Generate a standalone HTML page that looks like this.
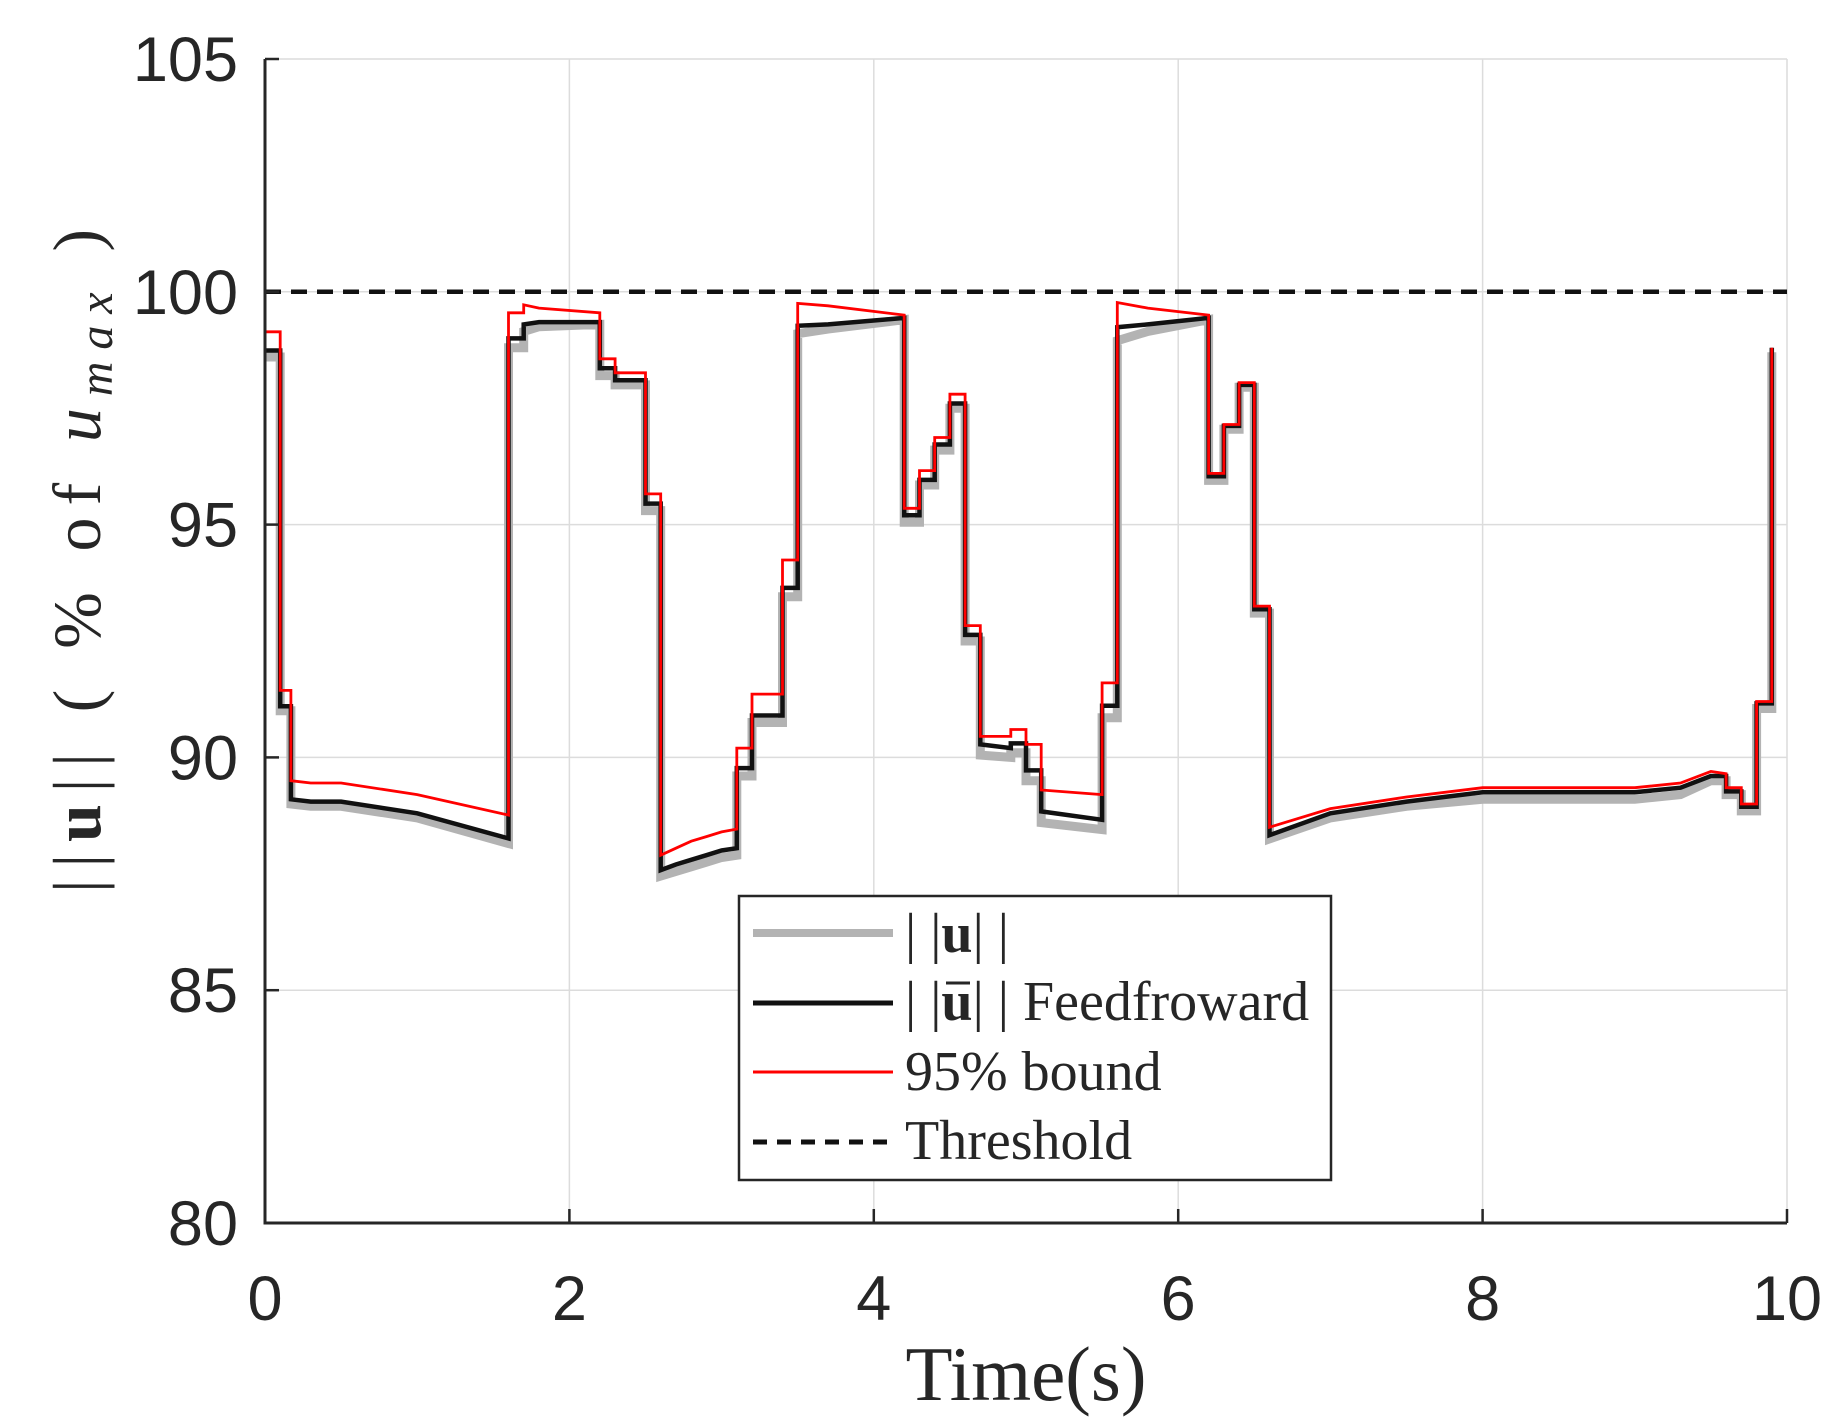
<!DOCTYPE html>
<html><head><meta charset="utf-8"><style>
html,body{margin:0;padding:0;background:#fff;}
svg{display:block;}
.tk{font-family:"Liberation Sans",sans-serif;font-size:63px;fill:#262626;}
.sf{font-family:"Liberation Serif",serif;fill:#262626;}
</style></head><body>
<svg id="chart" width="1844" height="1426" viewBox="0 0 1844 1426" xmlns="http://www.w3.org/2000/svg">
<g id="grid"></g>
<g id="series"></g>
<g id="axes"></g>
<text class="sf" x="1026" y="1400" font-size="77" text-anchor="middle">Time(s)</text>
<text class="sf" font-size="68" text-anchor="middle" textLength="664" lengthAdjust="spacing" transform="translate(100,561) rotate(-90)">||<tspan font-weight="bold">u</tspan>||  ( % of <tspan font-style="italic">u</tspan><tspan font-style="italic" font-size="48" dy="12">max</tspan><tspan dy="-12"> )</tspan></text>
<g>
<rect x="739" y="896" width="592" height="284" fill="#fff" stroke="#262626" stroke-width="2.5"/>
<g><line x1="753" y1="933" x2="893" y2="933" stroke="#b3b3b3" stroke-width="8"/><text class="sf" x="905" y="952" font-size="56">| |<tspan font-weight="bold">u</tspan>| |</text></g>
<g><line x1="753" y1="1003" x2="893" y2="1003" stroke="#111" stroke-width="5"/><text class="sf" x="905" y="1020" font-size="56">| |<tspan font-weight="bold">u</tspan>| |  Feedfroward</text><line x1="946" y1="983" x2="970" y2="983" stroke="#262626" stroke-width="3"/></g>
<g><line x1="753" y1="1072" x2="893" y2="1072" stroke="#f00" stroke-width="3"/><text class="sf" x="905" y="1090" font-size="56">95% bound</text></g>
<g><line x1="753" y1="1142" x2="893" y2="1142" stroke="#111" stroke-width="5" stroke-dasharray="14,10"/><text class="sf" x="905" y="1159" font-size="56">Threshold</text></g>
</g>
</svg>
<script>
const xTicks=[0,2,4,6,8,10];
const yTicks=[80,85,90,95,100,105];
const threshold=[100];
const times=[0,0.1,0.1,0.17,0.17,0.3,0.5,1.0,1.6,1.6,1.7,1.7,1.8,2.2,2.2,2.3,2.3,2.5,2.5,2.6,2.6,2.7,2.8,2.9,3.0,3.1,3.1,3.2,3.2,3.4,3.4,3.5,3.5,3.7,4.2,4.2,4.3,4.3,4.4,4.4,4.5,4.5,4.6,4.6,4.7,4.7,4.9,4.9,5.0,5.0,5.1,5.1,5.5,5.5,5.6,5.6,5.8,6.2,6.2,6.3,6.3,6.4,6.4,6.5,6.5,6.6,6.6,7.0,7.5,8.0,9.0,9.3,9.5,9.6,9.6,9.7,9.7,9.8,9.8,9.9,9.9];
const feedforward=[98.74,98.74,91.1,91.1,89.1,89.05,89.05,88.8,88.26,99.0,99.0,99.3,99.35,99.35,98.36,98.36,98.1,98.1,95.45,95.45,87.58,87.7,87.8,87.9,88.0,88.05,89.77,89.77,90.9,90.9,93.64,93.64,99.27,99.3,99.44,95.2,95.2,95.96,95.96,96.72,96.72,97.6,97.6,92.63,92.63,90.28,90.2,90.3,90.3,89.72,89.72,88.84,88.66,91.11,91.11,99.24,99.3,99.44,96.04,96.04,97.12,97.12,98.0,98.0,93.18,93.18,88.33,88.8,89.05,89.25,89.25,89.35,89.6,89.6,89.27,89.27,88.94,88.94,91.16,91.16,98.8];
const uNorm=[98.6,98.6,91.0,91.0,89.0,88.95,88.95,88.7,88.15,98.8,98.8,99.15,99.25,99.3,98.2,98.2,98.0,98.0,95.3,95.3,87.45,87.55,87.65,87.75,87.85,87.9,89.6,89.6,90.75,90.75,93.45,93.45,99.1,99.2,99.4,95.05,95.05,95.85,95.85,96.6,96.6,97.5,97.5,92.5,92.5,90.05,90.0,90.1,90.1,89.5,89.5,88.6,88.45,90.85,90.85,98.95,99.15,99.4,95.95,95.95,97.05,97.05,97.95,97.95,93.1,93.1,88.25,88.7,88.95,89.1,89.1,89.2,89.5,89.5,89.2,89.2,88.85,88.85,91.05,91.05,98.7];
const bound95=[99.14,99.14,91.44,91.44,89.5,89.45,89.45,89.2,88.76,99.55,99.55,99.72,99.65,99.55,98.56,98.56,98.26,98.26,95.66,95.66,87.9,88.05,88.2,88.3,88.4,88.46,90.2,90.2,91.36,91.36,94.24,94.24,99.75,99.7,99.5,95.35,95.35,96.16,96.16,96.87,96.87,97.8,97.8,92.83,92.83,90.45,90.45,90.6,90.6,90.28,90.28,89.3,89.2,91.6,91.6,99.77,99.65,99.5,96.1,96.1,97.15,97.15,98.05,98.05,93.25,93.25,88.5,88.9,89.15,89.35,89.35,89.45,89.7,89.65,89.35,89.35,89.0,89.0,91.2,91.2,98.8];

const X0=265,X1=1787,Y0=1223,Y1=59;
const xs=t=>X0+(t-0)/(10-0)*(X1-X0);
const ys=v=>Y0-(v-80)/(105-80)*(Y0-Y1);
const NS='http://www.w3.org/2000/svg';
function mk(tag,attrs,parent){const e=document.createElementNS(NS,tag);for(const k in attrs)e.setAttribute(k,attrs[k]);parent.appendChild(e);return e;}
const grid=document.getElementById('grid'),axes=document.getElementById('axes'),series=document.getElementById('series');
xTicks.forEach(t=>{
  const g=mk('line',{x1:xs(t),x2:xs(t),y1:Y1,y2:Y0,stroke:'#dcdcdc','stroke-width':1.5},grid);
  
  
  const tk=mk('line',{x1:xs(t),x2:xs(t),y1:Y0,y2:Y0-14,stroke:'#262626','stroke-width':2.5},axes);
  
  
  const lb=mk('text',{x:xs(t),y:1320,'text-anchor':'middle',class:'tk'},axes);
  lb.textContent=t;
  
  
});
yTicks.forEach(v=>{
  const g=mk('line',{x1:X0,x2:X1,y1:ys(v),y2:ys(v),stroke:'#dcdcdc','stroke-width':1.5},grid);
  
  
  const tk=mk('line',{x1:X0,x2:X0+14,y1:ys(v),y2:ys(v),stroke:'#262626','stroke-width':2.5},axes);
  
  
  const lb=mk('text',{x:238,y:ys(v)+22,'text-anchor':'end',class:'tk'},axes);
  lb.textContent=v;
  
  
});
const ax=mk('path',{d:`M${X0},${Y1}V${Y0}H${X1}`,fill:'none',stroke:'#262626','stroke-width':3},axes);


function pts(vals){return vals.map((v,i)=>xs(times[i]).toFixed(1)+','+ys(v).toFixed(1)).join(' ');}
const pu=mk('polyline',{points:pts(uNorm),fill:'none',stroke:'#b3b3b3','stroke-width':9,'stroke-linejoin':'miter'},series);


const pf=mk('polyline',{points:pts(feedforward),fill:'none',stroke:'#111','stroke-width':4.5},series);


const pr=mk('polyline',{points:pts(bound95),fill:'none',stroke:'#f00','stroke-width':2.8},series);


threshold.forEach(v=>{
  const th=mk('line',{x1:X0,x2:X1,y1:ys(v),y2:ys(v),stroke:'#111','stroke-width':4.5,'stroke-dasharray':'16,10'},series);
  
  
});
</script>
</body></html>
